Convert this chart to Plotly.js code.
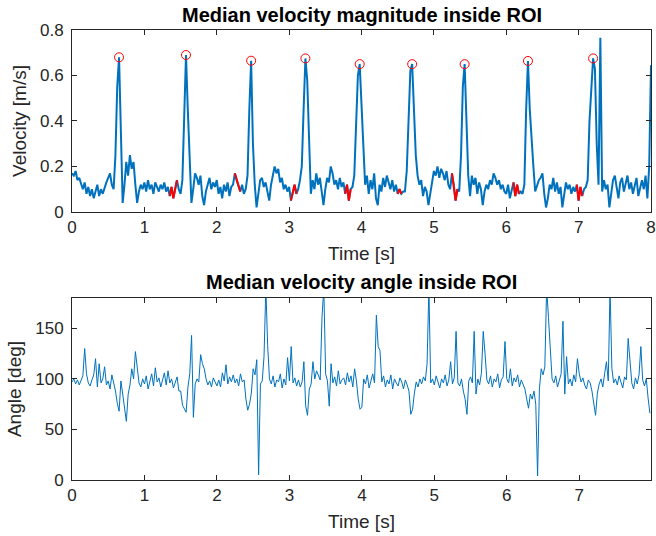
<!DOCTYPE html>
<html>
<head>
<meta charset="utf-8">
<script src="https://cdn.plot.ly/plotly-3.0.1.min.js"></script>
<style>html,body{margin:0;padding:0;background:#fff;}#chart{width:656px;height:536px;}</style>
</head>
<body>
<div id="chart"></div>
<script>
// sample step of both series [s]
const dt = 0.025;

// Median velocity magnitude [m/s], samples every dt from t = 0 to 8 s
const magnitude = [
0.17,0.16,0.18,0.14,0.15,0.12,0.10,0.13,0.08,0.11,
0.07,0.10,0.06,0.09,0.12,0.07,0.10,0.08,0.11,0.13,
0.15,0.17,0.12,0.10,0.25,0.55,0.68,0.30,0.04,0.12,
0.22,0.16,0.25,0.19,0.22,0.12,0.04,0.09,0.12,0.10,
0.13,0.09,0.14,0.10,0.12,0.08,0.13,0.11,0.09,0.12,
0.10,0.13,0.09,0.11,0.07,0.11,0.06,0.10,0.14,0.10,
0.08,0.14,0.42,0.69,0.45,0.20,0.04,0.10,0.17,0.15,
0.12,0.16,0.07,0.03,0.09,0.12,0.15,0.10,0.13,0.11,
0.14,0.08,0.11,0.06,0.12,0.09,0.13,0.07,0.11,0.12,
0.17,0.14,0.11,0.09,0.12,0.08,0.10,0.16,0.45,0.665,
0.30,0.12,0.02,0.08,0.14,0.15,0.11,0.13,0.09,0.05,
0.12,0.16,0.20,0.17,0.19,0.13,0.15,0.10,0.12,0.09,
0.11,0.05,0.09,0.12,0.08,0.10,0.14,0.20,0.45,0.675,
0.58,0.30,0.08,0.14,0.10,0.17,0.12,0.15,0.09,0.03,
0.10,0.15,0.13,0.20,0.17,0.12,0.14,0.10,0.15,0.11,
0.13,0.08,0.12,0.05,0.10,0.11,0.16,0.35,0.60,0.65,
0.45,0.25,0.12,0.16,0.08,0.14,0.10,0.17,0.06,0.03,
0.12,0.09,0.15,0.11,0.16,0.13,0.10,0.14,0.09,0.12,
0.08,0.10,0.08,0.09,0.09,0.18,0.45,0.62,0.65,0.45,
0.25,0.16,0.12,0.14,0.07,0.11,0.09,0.03,0.08,0.15,
0.18,0.16,0.20,0.15,0.19,0.17,0.14,0.18,0.12,0.10,
0.17,0.12,0.05,0.10,0.09,0.25,0.55,0.65,0.35,0.16,
0.07,0.16,0.12,0.15,0.08,0.13,0.10,0.03,0.09,0.12,
0.10,0.14,0.12,0.17,0.15,0.12,0.14,0.10,0.12,0.09,
0.08,0.12,0.06,0.10,0.13,0.07,0.12,0.08,0.09,0.08,
0.12,0.45,0.664,0.45,0.30,0.20,0.09,0.12,0.14,0.15,
0.17,0.08,0.02,0.06,0.12,0.10,0.15,0.09,0.13,0.08,
0.11,0.02,0.07,0.13,0.10,0.12,0.08,0.11,0.09,0.12,
0.05,0.11,0.07,0.10,0.11,0.14,0.40,0.55,0.675,0.63,
0.30,0.12,0.766,0.09,0.14,0.10,0.12,0.02,0.08,0.14,
0.16,0.11,0.06,0.13,0.15,0.09,0.12,0.16,0.10,0.13,
0.08,0.12,0.15,0.07,0.11,0.14,0.10,0.16,0.06,0.20,
0.645
];

// detected systolic peaks (red circles)
const peakTimes  = [0.65, 1.575, 2.475, 3.225, 3.975, 4.7, 5.425, 6.3, 7.2];
const peakValues = [0.68, 0.69, 0.665, 0.675, 0.65, 0.65, 0.65, 0.664, 0.675];

// highlighted (red) stretches of the magnitude curve [s]
const redStart = [1.35, 2.25, 3.025, 3.775, 4.5, 5.25, 6.1, 6.975];
const redEnd   = [1.45, 2.325, 3.1, 3.85, 4.55, 5.325, 6.175, 7.05];

// Median velocity angle [deg], samples every dt from t = 0 s
const angle = [
97,100,95,99,94,98,103,130,105,96,
93,99,104,120,92,115,96,100,112,94,
98,90,104,96,88,76,68,98,85,72,
58,85,94,110,100,127,108,96,92,100,
95,103,90,98,105,93,111,97,101,92,
99,106,94,108,96,100,91,97,102,88,
88,74,71,67,92,105,143,62,95,100,
97,124,115,110,100,94,98,92,101,96,
93,99,92,106,98,114,95,102,97,104,
96,100,93,105,97,99,80,69,75,86,
110,104,119,5,95,98,122,190,133,100,
95,103,92,99,97,105,91,100,94,121,
98,132,96,101,93,99,92,97,117,73,
64,90,95,117,100,108,104,99,161,190,
105,98,73,115,96,102,93,108,95,99,
101,94,106,97,103,92,110,98,80,70,
72,100,95,104,91,99,105,96,163,132,
128,97,103,92,99,95,104,90,100,96,
93,101,97,90,99,94,88,65,70,86,
97,92,100,95,102,98,115,190,96,100,
94,103,97,91,100,96,104,93,99,117,
95,101,147,96,93,100,88,80,65,98,
102,96,147,85,100,94,106,147,125,99,
95,103,92,100,97,105,91,99,102,137,
100,96,110,93,101,97,104,92,99,95,
90,80,71,85,80,88,75,4,90,110,
104,112,190,161,128,100,96,103,92,99,
105,157,85,122,95,100,93,104,97,120,
105,97,101,94,90,99,96,88,73,64,
86,95,100,92,105,117,98,190,110,96,
100,94,103,97,91,102,99,140,120,96,
90,101,95,104,132,99,93,100,81,66
];

const topTicks = [0, 0.2, 0.4, 0.6, 0.8];
const topTickText = ["0", "0.2", "0.4", "0.6", "0.8"];
const botTicks = [0, 50, 100, 150];
const botTickText = ["0", "50", "100", "150"];
const topXTicks = [0, 1, 2, 3, 4, 5, 6, 7, 8];
const botXTicks = [0, 1, 2, 3, 4, 5, 6, 7];

const tMag = magnitude.map((_, i) => +(i * dt).toFixed(3));
const tAng = angle.map((_, i) => +(i * dt).toFixed(3));
const redMag = magnitude.map((v, i) => {
  const t = tMag[i];
  for (let k = 0; k < redStart.length; k++) {
    if (t >= redStart[k] - 1e-9 && t <= redEnd[k] + 1e-9) return v;
  }
  return null;
});

const blue = '#0072BD';
const axColor = '#262626';
const fontFam = '"Liberation Sans", Arial, Helvetica, sans-serif';

const traces = [
  {x: tMag, y: magnitude, type: 'scatter', mode: 'lines', line: {color: blue, width: 2}, xaxis: 'x', yaxis: 'y'},
  {x: tMag, y: redMag, type: 'scatter', mode: 'lines', line: {color: '#FF0000', width: 2}, connectgaps: false, xaxis: 'x', yaxis: 'y'},
  {x: peakTimes, y: peakValues, type: 'scatter', mode: 'markers', marker: {symbol: 'circle-open', size: 9, color: '#FF0000', line: {width: 1, color: '#FF0000'}}, xaxis: 'x', yaxis: 'y', cliponaxis: false},
  {x: tAng, y: angle, type: 'scatter', mode: 'lines', line: {color: blue, width: 1}, xaxis: 'x2', yaxis: 'y2'}
];

function axisBase(extra) {
  return Object.assign({
    showline: true, mirror: 'ticks', linecolor: axColor, linewidth: 1,
    ticks: 'inside', ticklen: 5, tickwidth: 1, tickcolor: axColor,
    showgrid: false, zeroline: false, ticklabeloverflow: 'allow',
    tickfont: {family: fontFam, size: 17, color: axColor},
    fixedrange: true
  }, extra);
}

const titleFont = {family: fontFam, size: 19, color: axColor};

const layout = {
  width: 656, height: 536,
  paper_bgcolor: '#ffffff', plot_bgcolor: '#ffffff',
  showlegend: false,
  margin: {l: 72, r: 5, t: 30, b: 56},
  xaxis: axisBase({domain: [0, 1], range: [0, 8], tickvals: topXTicks, anchor: 'y',
    title: {text: 'Time [s]', font: titleFont, standoff: 10}}),
  yaxis: axisBase({domain: [0.5956, 1], range: [0, 0.8], tickvals: topTicks, ticktext: topTickText, anchor: 'x',
    ticklabelstandoff: 4,
    title: {text: 'Velocity [m/s]', font: titleFont, standoff: 8}}),
  xaxis2: axisBase({domain: [0, 1], range: [0, 7.99], tickvals: botXTicks, anchor: 'y2',
    title: {text: 'Time [s]', font: titleFont, standoff: 10}}),
  yaxis2: axisBase({domain: [0, 0.4044], range: [0, 180], tickvals: botTicks, ticktext: botTickText, anchor: 'x2',
    ticklabelstandoff: 4,
    title: {text: 'Angle [deg]', font: titleFont, standoff: 8}}),
  annotations: [
    {text: '<b>Median velocity magnitude inside ROI</b>', xref: 'paper', yref: 'paper', x: 0.5, y: 1.0333, xanchor: 'center', yanchor: 'middle', showarrow: false, font: {family: fontFam, size: 20, color: '#000000'}},
    {text: '<b>Median velocity angle inside ROI</b>', xref: 'paper', yref: 'paper', x: 0.5, y: 0.44, xanchor: 'center', yanchor: 'middle', showarrow: false, font: {family: fontFam, size: 20, color: '#000000'}}
  ]
};

Plotly.newPlot('chart', traces, layout, {staticPlot: true, displayModeBar: false});
</script>
</body>
</html>
